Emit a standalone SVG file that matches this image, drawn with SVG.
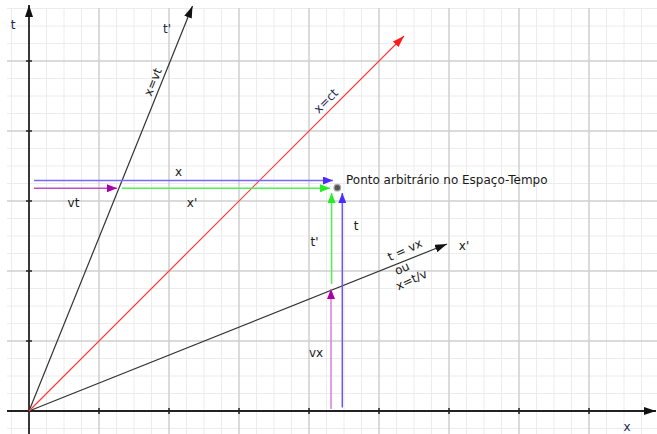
<svg xmlns="http://www.w3.org/2000/svg" width="657" height="434" viewBox="0 0 657 434">
<style>
.minor{stroke:#ececec;stroke-width:1}
.major{stroke:#cfcfcf;stroke-width:1.5}
.axis{stroke:#222;stroke-width:1.8;fill:none}
.tick{stroke:#222;stroke-width:1.5}
.lbl{font-family:"DejaVu Sans","Liberation Sans",sans-serif;font-size:12px;fill:#1a1a1a}
.nv{fill:#1c2850}
</style>
<defs>
<marker id="ak" viewBox="0 0 12 8" refX="12" refY="4" markerWidth="12" markerHeight="8" markerUnits="userSpaceOnUse" orient="auto"><path d="M0,0L12,4L0,8z" fill="#111"/></marker>
<marker id="ar" viewBox="0 0 12 8" refX="12" refY="4" markerWidth="12" markerHeight="8" markerUnits="userSpaceOnUse" orient="auto"><path d="M0,0L12,4L0,8z" fill="#ff1a1a"/></marker>
<marker id="ab" viewBox="0 0 10 8" refX="10" refY="4" markerWidth="10" markerHeight="8" markerUnits="userSpaceOnUse" orient="auto"><path d="M0,0L10,4L0,8z" fill="#4a2cff"/></marker>
<marker id="ag" viewBox="0 0 10 8" refX="10" refY="4" markerWidth="10" markerHeight="8" markerUnits="userSpaceOnUse" orient="auto"><path d="M0,0L10,4L0,8z" fill="#22ee22"/></marker>
<marker id="ap" viewBox="0 0 10 8" refX="10" refY="4" markerWidth="10" markerHeight="8" markerUnits="userSpaceOnUse" orient="auto"><path d="M0,0L10,4L0,8z" fill="#aa00aa"/></marker>
</defs>
<rect width="657" height="434" fill="#fff"/>
<g id="grid">
<g class="minor">
<line x1="11.5" y1="8" x2="11.5" y2="434"/><line x1="46.5" y1="8" x2="46.5" y2="434"/><line x1="64" y1="8" x2="64" y2="434"/><line x1="81.5" y1="8" x2="81.5" y2="434"/>
<line x1="116.5" y1="8" x2="116.5" y2="434"/><line x1="134" y1="8" x2="134" y2="434"/><line x1="151.5" y1="8" x2="151.5" y2="434"/>
<line x1="186.5" y1="8" x2="186.5" y2="434"/><line x1="204" y1="8" x2="204" y2="434"/><line x1="221.5" y1="8" x2="221.5" y2="434"/>
<line x1="256.5" y1="8" x2="256.5" y2="434"/><line x1="274" y1="8" x2="274" y2="434"/><line x1="291.5" y1="8" x2="291.5" y2="434"/>
<line x1="326.5" y1="8" x2="326.5" y2="434"/><line x1="344" y1="8" x2="344" y2="434"/><line x1="361.5" y1="8" x2="361.5" y2="434"/>
<line x1="396.5" y1="8" x2="396.5" y2="434"/><line x1="414" y1="8" x2="414" y2="434"/><line x1="431.5" y1="8" x2="431.5" y2="434"/>
<line x1="466.5" y1="8" x2="466.5" y2="434"/><line x1="484" y1="8" x2="484" y2="434"/><line x1="501.5" y1="8" x2="501.5" y2="434"/>
<line x1="536.5" y1="8" x2="536.5" y2="434"/><line x1="554" y1="8" x2="554" y2="434"/><line x1="571.5" y1="8" x2="571.5" y2="434"/>
<line x1="606.5" y1="8" x2="606.5" y2="434"/><line x1="624" y1="8" x2="624" y2="434"/><line x1="641.5" y1="8" x2="641.5" y2="434"/>
<line x1="7" y1="8.5" x2="657" y2="8.5"/><line x1="7" y1="26" x2="657" y2="26"/><line x1="7" y1="43.5" x2="657" y2="43.5"/>
<line x1="7" y1="78.5" x2="657" y2="78.5"/><line x1="7" y1="96" x2="657" y2="96"/><line x1="7" y1="113.5" x2="657" y2="113.5"/>
<line x1="7" y1="148.5" x2="657" y2="148.5"/><line x1="7" y1="166" x2="657" y2="166"/><line x1="7" y1="183.5" x2="657" y2="183.5"/>
<line x1="7" y1="218.5" x2="657" y2="218.5"/><line x1="7" y1="236" x2="657" y2="236"/><line x1="7" y1="253.5" x2="657" y2="253.5"/>
<line x1="7" y1="288.5" x2="657" y2="288.5"/><line x1="7" y1="306" x2="657" y2="306"/><line x1="7" y1="323.5" x2="657" y2="323.5"/>
<line x1="7" y1="358.5" x2="657" y2="358.5"/><line x1="7" y1="376" x2="657" y2="376"/><line x1="7" y1="393.5" x2="657" y2="393.5"/>
<line x1="7" y1="428.5" x2="657" y2="428.5"/>
</g>
<g class="major">
<line x1="99" y1="8" x2="99" y2="434"/><line x1="169" y1="8" x2="169" y2="434"/><line x1="239" y1="8" x2="239" y2="434"/><line x1="309" y1="8" x2="309" y2="434"/>
<line x1="379" y1="8" x2="379" y2="434"/><line x1="449" y1="8" x2="449" y2="434"/><line x1="519" y1="8" x2="519" y2="434"/><line x1="589" y1="8" x2="589" y2="434"/>
<line x1="7" y1="61" x2="657" y2="61"/><line x1="7" y1="131" x2="657" y2="131"/><line x1="7" y1="201" x2="657" y2="201"/><line x1="7" y1="271" x2="657" y2="271"/><line x1="7" y1="341" x2="657" y2="341"/>
</g>
</g>
<g id="axes">
<line class="axis" x1="29" y1="434" x2="29" y2="5" marker-end="url(#ak)"/>
<line class="axis" x1="7" y1="411" x2="656" y2="411" marker-end="url(#ak)"/>
<g class="tick">
<line x1="99" y1="408" x2="99" y2="414"/><line x1="169" y1="408" x2="169" y2="414"/><line x1="239" y1="408" x2="239" y2="414"/><line x1="309" y1="408" x2="309" y2="414"/>
<line x1="379" y1="408" x2="379" y2="414"/><line x1="449" y1="408" x2="449" y2="414"/><line x1="519" y1="408" x2="519" y2="414"/><line x1="589" y1="408" x2="589" y2="414"/>
<line x1="26" y1="341" x2="32" y2="341"/><line x1="26" y1="271" x2="32" y2="271"/><line x1="26" y1="201" x2="32" y2="201"/><line x1="26" y1="131" x2="32" y2="131"/><line x1="26" y1="61" x2="32" y2="61"/>
</g>
<text class="lbl nv" x="13" y="29" text-anchor="middle">t</text>
<text class="lbl nv" x="627" y="431" text-anchor="middle">x</text>
</g>
<g id="connectors">
<line x1="29" y1="411" x2="192.5" y2="6" stroke="#333" stroke-width="1.2" marker-end="url(#ak)"/>
<line x1="29" y1="411" x2="447" y2="244" stroke="#333" stroke-width="1.2" marker-end="url(#ak)"/>
<line x1="29" y1="411" x2="404" y2="36" stroke="#ff3a3a" stroke-width="1.2" marker-end="url(#ar)"/>
<line x1="34" y1="180.5" x2="333" y2="180.5" stroke="#7a66ff" stroke-width="1.5" marker-end="url(#ab)"/>
<line x1="34" y1="188.3" x2="117" y2="188.3" stroke="#c050c0" stroke-width="1.5" marker-end="url(#ap)"/>
<line x1="122" y1="188.3" x2="330" y2="188.3" stroke="#55ee55" stroke-width="1.5" marker-end="url(#ag)"/>
<line x1="331.6" y1="284" x2="331.6" y2="193" stroke="#55ee55" stroke-width="1.5" marker-end="url(#ag)"/>
<line x1="342.3" y1="407.5" x2="342.3" y2="193" stroke="#6a55ff" stroke-width="1.5" marker-end="url(#ab)"/>
<line x1="331" y1="409" x2="331" y2="289" stroke="#d880d8" stroke-width="1.5" marker-end="url(#ap)"/>
</g>
<g id="point">
<circle cx="337.3" cy="187.7" r="3.3" fill="#555" stroke="#aaa" stroke-width="1.2"/>
<text class="lbl" x="346" y="183.5">Ponto arbitrário no Espaço-Tempo</text>
</g>
<g id="labels">
<text class="lbl nv" x="167" y="32.5" text-anchor="middle">t'</text>
<text class="lbl" transform="translate(153,82) rotate(-68)" x="0" y="4" text-anchor="middle">x=vt</text>
<text class="lbl nv" transform="translate(326,101) rotate(-45)" x="0" y="4" text-anchor="middle">x=ct</text>
<text class="lbl" transform="translate(405,250) rotate(-25)" x="0" y="4" text-anchor="middle">t = vx</text>
<text class="lbl" transform="translate(402,268.5) rotate(-25)" x="0" y="4" text-anchor="middle">ou</text>
<text class="lbl" transform="translate(411.5,280) rotate(-25)" x="0" y="4" text-anchor="middle">x=t/v</text>
<text class="lbl" x="464" y="250" text-anchor="middle">x'</text>
<text class="lbl" x="178.5" y="176" text-anchor="middle">x</text>
<text class="lbl" x="73.5" y="207" text-anchor="middle">vt</text>
<text class="lbl" x="192" y="207" text-anchor="middle">x'</text>
<text class="lbl" x="314.5" y="246" text-anchor="middle">t'</text>
<text class="lbl" x="356" y="230" text-anchor="middle">t</text>
<text class="lbl" x="316" y="356.5" text-anchor="middle">vx</text>
</g>
</svg>
